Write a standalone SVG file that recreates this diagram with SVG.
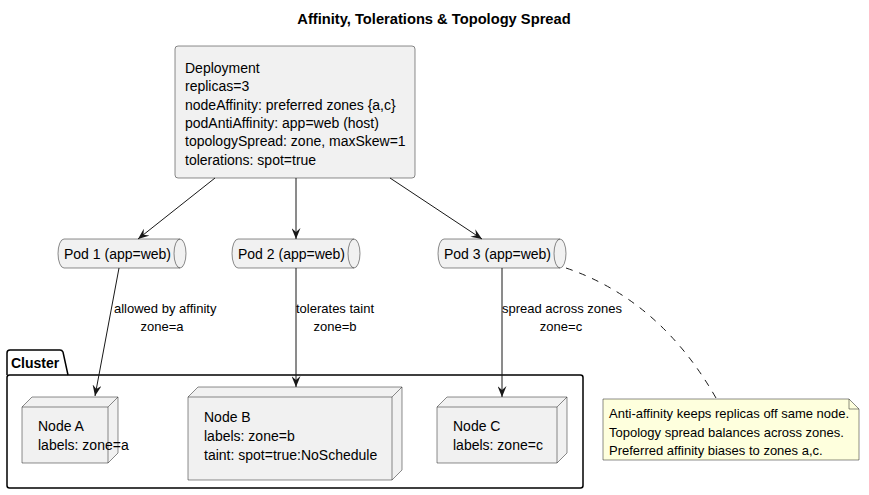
<svg xmlns="http://www.w3.org/2000/svg" width="869" height="495" viewBox="0 0 869 495">
<style>
text{font-family:"Liberation Sans",Arial,sans-serif;fill:#000}
.t14{font-size:14px}
.t13{font-size:13px}
.box{fill:#F1F1F1;stroke:#181818;stroke-width:0.5}
.ln{fill:none;stroke:#181818;stroke-width:1}
.cl{fill:none;stroke:#000;stroke-width:1.5}
</style>
<defs>
<marker id="ah" viewBox="0 0 11 9" refX="11" refY="4.5" markerWidth="11" markerHeight="9" markerUnits="userSpaceOnUse" orient="auto">
<path d="M0,0 L11,4.5 L0,9 L4,4.5 Z" fill="#181818"/>
</marker>
</defs>
<text x="434" y="24" text-anchor="middle" style="font-size:14.7px;font-weight:bold">Affinity, Tolerations &amp; Topology Spread</text>

<g id="cluster">
<path class="cl" d="M7,375 V353 Q7,350 10,350 H60 Q62,350 63,352 L68,375"/>
<rect class="cl" x="7" y="375" width="576" height="113" rx="2.5"/>
<text x="11" y="368" style="font-size:14px;font-weight:bold">Cluster</text>
</g>

<g id="deployment">
<rect class="box" x="175" y="46" width="240" height="132" rx="3"/>
<text class="t14" x="185" y="73">Deployment</text>
<text class="t14" x="185" y="91.3">replicas=3</text>
<text class="t14" x="185" y="109.6">nodeAffinity: preferred zones {a,c}</text>
<text class="t14" x="185" y="127.9">podAntiAffinity: app=web (host)</text>
<text class="t14" x="185" y="146.2">topologySpread: zone, maxSkew=1</text>
<text class="t14" x="185" y="164.5">tolerations: spot=true</text>
</g>

<g id="pod1">
<path class="box" d="M64,239 H180 A6,14.5 0 0 1 180,268 H64 A6,14.5 0 0 1 64,239 Z"/>
<path class="ln" style="stroke-width:0.5" d="M180,239 A6,14.5 0 0 0 180,268"/>
<text class="t14" x="64" y="258.5">Pod 1 (app=web)</text>
</g>
<g id="pod2">
<path class="box" d="M238,239 H354 A6,14.5 0 0 1 354,268 H238 A6,14.5 0 0 1 238,239 Z"/>
<path class="ln" style="stroke-width:0.5" d="M354,239 A6,14.5 0 0 0 354,268"/>
<text class="t14" x="238" y="258.5">Pod 2 (app=web)</text>
</g>
<g id="pod3">
<path class="box" d="M444,239 H560 A6,14.5 0 0 1 560,268 H444 A6,14.5 0 0 1 444,239 Z"/>
<path class="ln" style="stroke-width:0.5" d="M560,239 A6,14.5 0 0 0 560,268"/>
<text class="t14" x="444" y="258.5">Pod 3 (app=web)</text>
</g>

<g id="nodeA">
<path class="box" d="M22,407 L32,397 L118,397 L118,453 L108,463 L22,463 Z"/>
<path class="ln" style="stroke-width:0.5" d="M22,407 L108,407 L118,397 M108,407 L108,463"/>
<text class="t14" x="38" y="431">Node A</text>
<text class="t14" x="38" y="450">labels: zone=a</text>
</g>
<g id="nodeB">
<path class="box" d="M188,397 L198,387 L402,387 L402,470 L392,480 L188,480 Z"/>
<path class="ln" style="stroke-width:0.5" d="M188,397 L392,397 L402,387 M392,397 L392,480"/>
<text class="t14" x="204" y="422">Node B</text>
<text class="t14" x="204" y="441">labels: zone=b</text>
<text class="t14" x="204" y="460">taint: spot=true:NoSchedule</text>
</g>
<g id="nodeC">
<path class="box" d="M437,407 L447,397 L567,397 L567,453 L557,463 L437,463 Z"/>
<path class="ln" style="stroke-width:0.5" d="M437,407 L557,407 L567,397 M557,407 L557,463"/>
<text class="t14" x="453" y="431">Node C</text>
<text class="t14" x="453" y="450">labels: zone=c</text>
</g>

<g id="note">
<path d="M603,399 H849 L859,409 V460 H603 Z" fill="#FEFFDD" stroke="#181818" stroke-width="0.5"/>
<path d="M849,399 V409 H859" fill="none" stroke="#181818" stroke-width="0.5"/>
<text class="t13" x="609" y="418">Anti-affinity keeps replicas off same node.</text>
<text class="t13" x="609" y="436.5">Topology spread balances across zones.</text>
<text class="t13" x="609" y="455">Preferred affinity biases to zones a,c.</text>
</g>

<g id="connectors">
<path class="ln" d="M215,178 L138,239" marker-end="url(#ah)"/>
<path class="ln" d="M296,178 L296,239" marker-end="url(#ah)"/>
<path class="ln" d="M390,178 L482,239" marker-end="url(#ah)"/>
<path class="ln" d="M119,268 L95,396" marker-end="url(#ah)"/>
<path class="ln" d="M296,268 L296,387" marker-end="url(#ah)"/>
<path class="ln" d="M502,268 L502,397" marker-end="url(#ah)"/>
<path class="ln" d="M566,268 Q660,300 716,398" stroke-dasharray="7,7"/>
<text class="t13" x="114" y="313">allowed by affinity</text>
<text class="t13" x="162" y="331" text-anchor="middle">zone=a</text>
<text class="t13" x="296" y="313">tolerates taint</text>
<text class="t13" x="335" y="331" text-anchor="middle">zone=b</text>
<text class="t13" x="502" y="313">spread across zones</text>
<text class="t13" x="561" y="331" text-anchor="middle">zone=c</text>
</g>
</svg>
